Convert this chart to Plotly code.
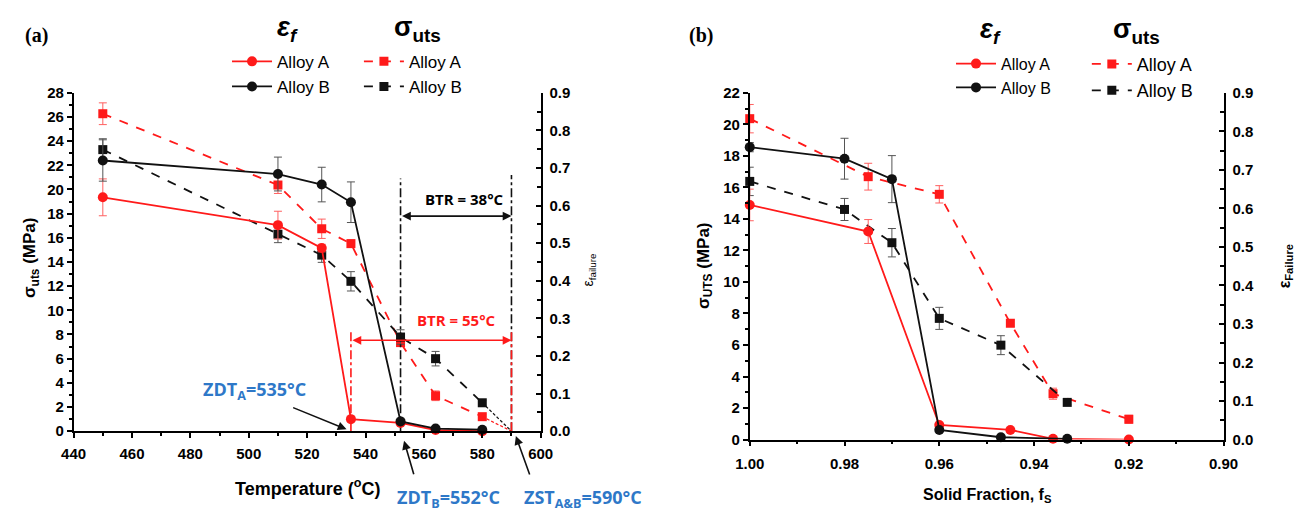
import plotly.graph_objects as go

W, H = 1307, 511

# ---------------- panel (a): properties vs test temperature ----------------
temp_C = [450, 510, 525, 535, 552, 564, 580]
strain_A = [0.622, 0.548, 0.487, 0.032, 0.022, 0.003, 0.0]
strain_A_err = [0.049, 0.037, 0.010, 0, 0, 0, 0]
strain_B = [0.720, 0.684, 0.656, 0.609, 0.026, 0.007, 0.004]
strain_B_err = [0.055, 0.045, 0.046, 0.054, 0, 0, 0]
uts_A = [26.27, 20.37, 16.75, 15.52, 7.33, 2.93, 1.20]
uts_A_err = [0.9, 0.7, 0.8, 0.3, 0.3, 0.4, 0.2]
uts_B = [23.3, 16.3, 14.57, 12.4, 7.79, 6.0, 2.35]
uts_B_err = [0.9, 0.7, 0.6, 0.8, 0.6, 0.6, 0.2]

zdt_A = 535
zdt_B = 552
zst_AB = 590
btr_A = 55
btr_B = 38

# ---------------- panel (b): properties vs solid fraction ----------------
fs_A = [1.00, 0.975, 0.96, 0.945, 0.936, 0.92]
fs_B = [1.00, 0.98, 0.97, 0.96, 0.947, 0.933]
strain_A_fs = [0.609, 0.540, 0.038, 0.025, 0.002, 0.0]
strain_A_fs_err = [0.041, 0.031, 0, 0, 0, 0]
strain_B_fs = [0.759, 0.729, 0.676, 0.025, 0.006, 0.002]
strain_B_fs_err = [0.012, 0.053, 0.061, 0, 0, 0]
uts_A_fs = [20.36, 16.68, 15.56, 7.38, 2.91, 1.29]
uts_A_fs_err = [0.9, 0.85, 0.55, 0.2, 0.35, 0.25]
uts_B_fs = [16.38, 14.6, 12.49, 7.69, 5.99, 2.36]
uts_B_fs_err = [0.9, 0.7, 0.9, 0.7, 0.6, 0.15]

RED = "#ff1a1a"
BLK = "#111111"
BLUE = "#2e78c8"
RED_ERR = "#ff6060"
BLK_ERR = "#555555"

# pixel frame of panel (a), used to place labels that sit below its axis
A_X0, A_X1 = 60, 538
A_Y0, A_Y1 = 436.7, 86.7
T_MIN, T_MAX = 440, 600
B_X0, B_X1 = 752, 1237
B_Y0 = 445.4


def px(x):
    return x / W


def py(y):
    return 1 - y / H


def t2pix(t):
    return A_X0 + (t - T_MIN) * (A_X1 - A_X0) / (T_MAX - T_MIN)


fig = go.Figure()


def add_series(x, y, err, xa, ya, color, ecolor, dash, symbol, size, name, legend):
    fig.add_trace(go.Scatter(
        x=x, y=y, xaxis=xa, yaxis=ya, name=name, legend=legend,
        mode="lines+markers", cliponaxis=False,
        line=dict(color=color, width=1.8, dash=dash),
        marker=dict(color=color, symbol=symbol, size=size),
        error_y=dict(type="data", array=err, color=ecolor, thickness=1, width=4),
    ))


# panel (a) traces
add_series(temp_C, strain_A, strain_A_err, "x", "y2", RED, RED_ERR, "solid", "circle", 10, "Alloy A", "legend")
add_series(temp_C, strain_B, strain_B_err, "x", "y2", BLK, BLK_ERR, "solid", "circle", 10, "Alloy B", "legend")
add_series(temp_C, uts_A, uts_A_err, "x", "y", RED, RED_ERR, "dash", "square", 9, "Alloy A", "legend2")
add_series(temp_C, uts_B, uts_B_err, "x", "y", BLK, BLK_ERR, "dash", "square", 9, "Alloy B", "legend2")

# strength extrapolated down to zero strength at ZST
for ys, col in ((uts_A, RED), (uts_B, BLK)):
    fig.add_trace(go.Scatter(
        x=[temp_C[-1], zst_AB], y=[ys[-1], 0], xaxis="x", yaxis="y",
        mode="lines", showlegend=False, line=dict(color=col, width=1.2, dash="3px,2px"),
    ))

# brittle temperature range boundaries
fig.add_trace(go.Scatter(x=[zdt_A, zdt_A], y=[0, 8.4], xaxis="x", yaxis="y", mode="lines",
                         showlegend=False, line=dict(color=RED, width=1.6, dash="dashdot")))
fig.add_trace(go.Scatter(x=[zdt_B, zdt_B], y=[0, 20.9], xaxis="x", yaxis="y", mode="lines",
                         showlegend=False, line=dict(color=BLK, width=1.6, dash="dashdot")))
fig.add_trace(go.Scatter(x=[zst_AB, zst_AB], y=[0, 21.2], xaxis="x", yaxis="y", mode="lines",
                         showlegend=False, line=dict(color=BLK, width=1.6, dash="dashdot")))
fig.add_trace(go.Scatter(x=[zst_AB, zst_AB], y=[0, 8.4], xaxis="x", yaxis="y", mode="lines",
                         showlegend=False, line=dict(color=RED, width=1.6, dash="dashdot")))

# panel (b) traces
add_series(fs_A, strain_A_fs, strain_A_fs_err, "x2", "y4", RED, RED_ERR, "solid", "circle", 10, "Alloy A", "legend3")
add_series(fs_B, strain_B_fs, strain_B_fs_err, "x2", "y4", BLK, BLK_ERR, "solid", "circle", 10, "Alloy B", "legend3")
add_series(fs_A, uts_A_fs, uts_A_fs_err, "x2", "y3", RED, RED_ERR, "dash", "square", 9, "Alloy A", "legend4")
add_series(fs_B, uts_B_fs, uts_B_fs_err, "x2", "y3", BLK, BLK_ERR, "dash", "square", 9, "Alloy B", "legend4")

tickfont = dict(family="Arial", size=15, color="black", weight="bold")
axis_common = dict(showline=True, linecolor="black", linewidth=1.6, showgrid=False,
                   zeroline=False, ticklen=5, tickwidth=1.5,
                   tickcolor="black", tickfont=tickfont)
minor_out = dict(ticks="outside", ticklen=3, tickcolor="black")
minor_in = dict(ticks="inside", ticklen=4, tickcolor="black")

dom_a = [px(A_X0), px(A_X1)]
dom_b = [px(B_X0), px(B_X1)]

fig.update_layout(
    width=W, height=H, margin=dict(l=0, r=0, t=0, b=0),
    paper_bgcolor="white", plot_bgcolor="rgba(0,0,0,0)",
    xaxis=dict(domain=dom_a, range=[T_MIN, T_MAX], dtick=20, anchor="y", ticks="outside",
               ticklabelstandoff=3, minor=dict(dtick=10, **minor_out), **axis_common),
    yaxis=dict(domain=[py(A_Y0), py(A_Y1)], range=[0, 28], dtick=2, anchor="x", ticks="outside",
               minor=dict(dtick=1, **minor_out), **axis_common),
    yaxis2=dict(overlaying="y", side="right", anchor="x", range=[0, 0.9], dtick=0.1,
                tickformat=".1f", ticks="inside", ticklabelstandoff=4,
                minor=dict(dtick=0.05, **minor_in), **axis_common),
    xaxis2=dict(domain=dom_b, range=[1.0, 0.9], dtick=0.02, tickformat=".2f", anchor="y3",
                ticks="outside", ticklabelstandoff=5,
                minor=dict(dtick=0.01, **minor_out), **axis_common),
    yaxis3=dict(domain=[py(B_Y0), py(A_Y1)], range=[0, 22], dtick=2, anchor="x2", ticks="outside",
                minor=dict(dtick=1, **minor_out), **axis_common),
    yaxis4=dict(overlaying="y3", side="right", anchor="x2", range=[0, 0.9], dtick=0.1,
                tickformat=".1f", ticks="inside", ticklabelstandoff=4,
                minor=dict(dtick=0.05, **minor_in), **axis_common),
)


def legend_box(x, y, size):
    return dict(x=px(x), y=py(y), font=dict(family="Arial", size=size, color="black"),
                bgcolor="rgba(0,0,0,0)", xanchor="left", yanchor="top", itemwidth=40,
                tracegroupgap=0, itemclick=False, itemdoubleclick=False)


fig.update_layout(
    legend=legend_box(217, 36, 17),
    legend2=legend_box(352, 36, 17),
    legend3=legend_box(958, 39, 16),
    legend4=legend_box(1097, 38, 18),
)

ann = []


def text(x, y, s, size, color="black", bold=True, italic=False, xref="paper", yref="paper",
         angle=0, family="Arial", xanchor="center"):
    ann.append(dict(x=x, y=y, xref=xref, yref=yref, text=s, showarrow=False, textangle=angle,
                    xanchor=xanchor, yanchor="middle",
                    font=dict(family=family, size=size, color=color,
                              weight="bold" if bold else "normal",
                              style="italic" if italic else "normal")))


def arrow(x0, y0, x1, y1, color, both=False):
    ann.append(dict(x=x1, y=y1, ax=x0, ay=y0, xref="x", yref="y", axref="x", ayref="y",
                    text="", showarrow=True, arrowhead=2, arrowsize=1.1, arrowwidth=1.6,
                    arrowcolor=color, arrowside="end+start" if both else "end",
                    standoff=0, startstandoff=0))


def arrow_px(x0, y0, x1, y1, color):
    # arrow given in figure pixels (tail -> head)
    ann.append(dict(x=px(x1), y=py(y1), xref="paper", yref="paper", ax=x0 - x1, ay=y0 - y1,
                    axref="pixel", ayref="pixel", text="", showarrow=True, arrowhead=2,
                    arrowsize=1.1, arrowwidth=1.6, arrowcolor=color, standoff=0, startstandoff=0))


# panel labels
text(px(22), py(27), "(a)", 20, family="Liberation Serif")
text(px(702), py(27), "(b)", 20, family="Liberation Serif")

# legend column headers
text(px(279), py(21), "ε<sub>f</sub>", 27, italic=True)
text(px(412), py(21), "σ<sub>uts</sub>", 27)
text(px(998), py(23), "ε<sub>f</sub>", 27, italic=True)
text(px(1148), py(23), "σ<sub>uts</sub>", 27)

# axis titles
text(px(17), py(258), "σ<sub>uts</sub> (MPa)", 17, angle=-90)
text(px(588), py(270), "ε<sub>failure</sub>", 14, bold=False, angle=-90)
text(px(299), py(495), "Temperature (<sup>o</sup>C)", 18)
text(px(706), py(266), "σ<sub>UTS</sub> (MPa)", 17, angle=-90)
text(px(1300), py(266), "ε<sub>Failure</sub>", 16, angle=-90)
text(px(995), py(503), "Solid Fraction, f<sub>S</sub>", 16)

# brittle temperature range arrows and labels
arrow(zdt_B, 17.8, zdt_B + btr_B, 17.8, BLK, both=True)
text(574, 19.2, "BTR = %d°C" % btr_B, 15, xref="x", yref="y", family="Open Sans")
arrow(zdt_A, 7.52, zdt_A + btr_A, 7.52, RED, both=True)
text(571, 9.2, "BTR = %d°C" % btr_A, 15, color=RED, xref="x", yref="y", family="Open Sans")

# characteristic temperatures
text(502, 3.35, "ZDT<sub>A</sub>=%d°C" % zdt_A, 18, color=BLUE, xref="x", yref="y", family="Open Sans")
arrow(514.7, 2.0, zdt_A - 1.5, 0.15, BLK)
text(px(t2pix(568.5)), py(506), "ZDT<sub>B</sub>=%d°C" % zdt_B, 18, color=BLUE, family="Open Sans")
arrow_px(t2pix(556.6), 481.7, t2pix(zdt_B + 1.2), 446.7, BLK)
text(px(t2pix(614.5)), py(506), "ZST<sub>A&amp;B</sub>=%d°C" % zst_AB, 18, color=BLUE, family="Open Sans")
arrow_px(t2pix(596.3), 481.7, t2pix(zst_AB + 1.5), 441.7, BLK)

fig.update_layout(annotations=ann)

fig.write_html("out.html")
